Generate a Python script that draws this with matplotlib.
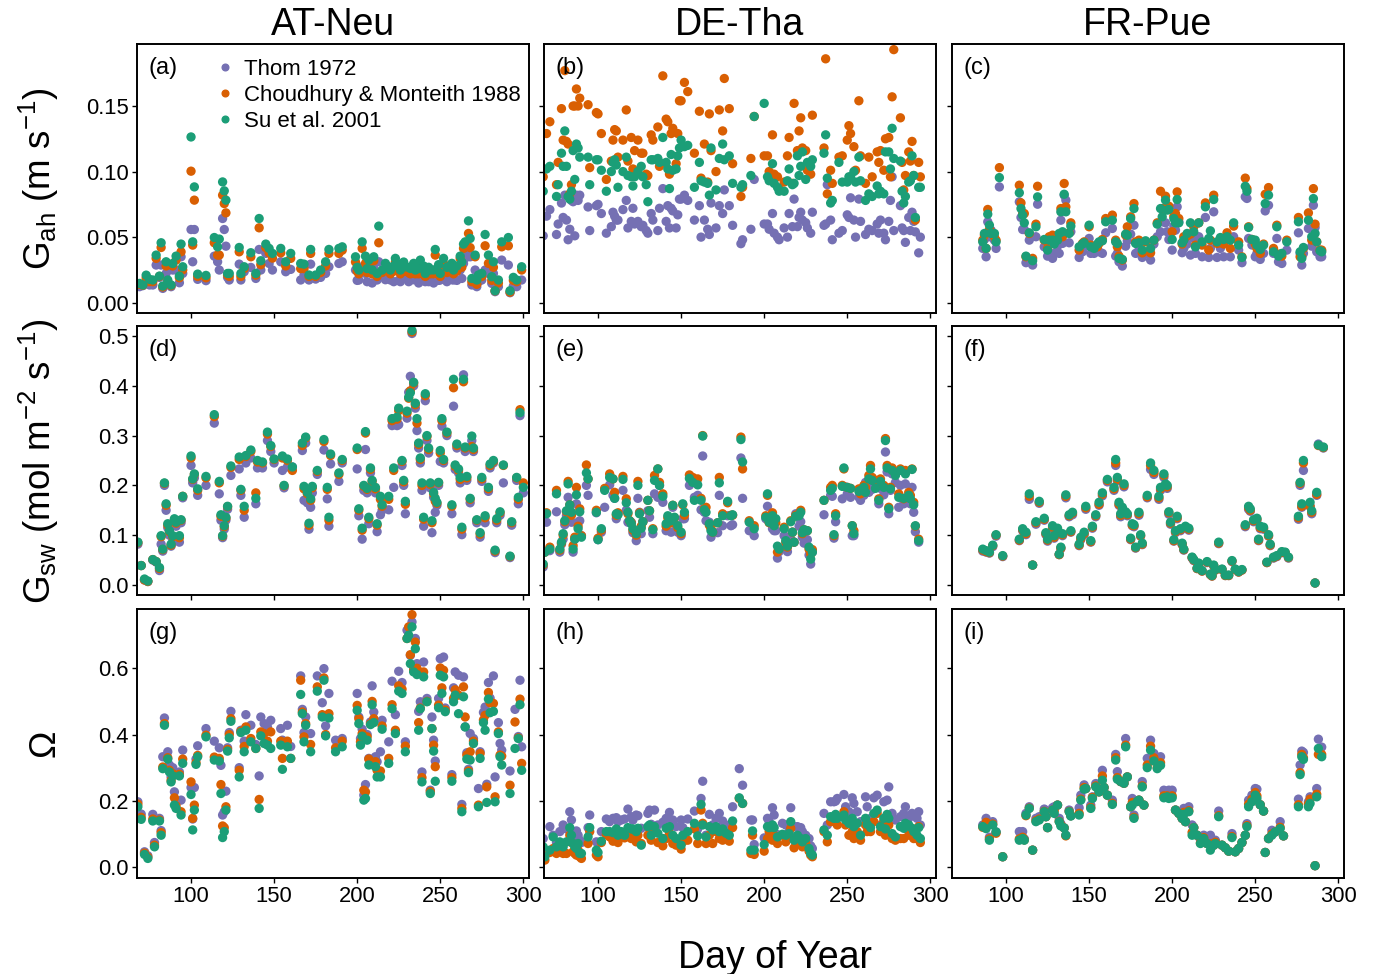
import matplotlib
matplotlib.use("Agg")
import matplotlib.pyplot as plt
from matplotlib.lines import Line2D

plt.rcParams['font.family'] = ['Liberation Sans', 'DejaVu Sans']
plt.rcParams['mathtext.fontset'] = 'custom'
plt.rcParams['mathtext.rm'] = 'Liberation Sans'
plt.rcParams['mathtext.it'] = 'Liberation Sans'
plt.rcParams['mathtext.default'] = 'regular'

sites = ["AT-Neu", "DE-Tha", "FR-Pue"]
methods = ["Thom 1972", "Choudhury & Monteith 1988", "Su et al. 2001"]
colors = ["#7570B3", "#D95F02", "#1B9E77"]
row_labels = [r"G$_{ah}$ (m s$^{-1}$)", r"G$_{sw}$ (mol m$^{-2}$ s$^{-1}$)", "Ω"]
panel_tags = ["(a)", "(b)", "(c)", "(d)", "(e)", "(f)", "(g)", "(h)", "(i)"]
x_ticks = [100, 150, 200, 250, 300]
y_ticks = [[0.00, 0.05, 0.10, 0.15], [0.0, 0.1, 0.2, 0.3, 0.4, 0.5], [0.0, 0.2, 0.4, 0.6]]
y_ticklabels = [["0.00", "0.05", "0.10", "0.15"], ["0.0", "0.1", "0.2", "0.3", "0.4", "0.5"],
                ["0.0", "0.2", "0.4", "0.6"]]

# ---------------- (a) AT-Neu, Gah ----------------
a_day = [69,71,73,75,77,79,81,82,83,85,
         86,88,89,91,93,94,95,100,101,102,
         104,109,114,116,117,119,120,121,122,123,
         129,130,132,136,139,141,142,145,147,149,
         154,157,160,166,168,171,172,175,178,181,
         183,189,191,199,201,203,205,207,210,212,
         213,215,218,220,223,226,229,232,235,238,
         241,244,247,250,252,255,258,262,264,265,
         267,268,269,271,272,273,275,277,279,281,
         282,283,285,287,291,292,294,296,299,
         200,206,209,217,222,225,228,231,234,237,
         240,243,246,249,254,257,260,263]
a_thom = [.0122,.0130,.0152,.0135,.0135,.0287,.0193,.0287,.0109,.0223,
          .0147,.0122,.0249,.0249,.0152,.0350,.0223,.0558,.0312,.0558,
          .0178,.0168,.0355,.0312,.0249,.0642,.0558,.0431,.0193,.0173,
          .0294,.0173,.0236,.0269,.0185,.0406,.0249,.0376,.0299,.0249,
          .0312,.0236,.0254,.0173,.0211,.0173,.0294,.0180,.0193,.0223,
          .0274,.0299,.0312,.0249,.0173,.0274,.0223,.0236,.0261,.0173,
          .0312,.0211,.0185,.0173,.0249,.0160,.0185,.0173,.0185,.0223,
          .0160,.0173,.0249,.0173,.0236,.0185,.0173,.0249,.0299,.0340,
          .0376,.0350,.0135,.0249,.0122,.0160,.0173,.0249,.0223,.0147,
          .0223,.0084,.0122,.0325,.0287,.0076,.0127,.0122,.0173,
          .0170,.0160,.0150,.0175,.0160,.0170,.0185,.0160,.0175,.0150,
          .0170,.0160,.0150,.0170,.0160,.0175,.0170,.0185]
a_chou = [.0140,.0133,.0190,.0160,.0160,.0338,.0200,.0421,.0120,.0280,
          .0160,.0130,.0280,.0325,.0190,.0388,.0250,.1003,.0439,.0782,
          .0200,.0190,.0457,.0363,.0363,.0820,.0756,.0685,.0210,.0200,
          .0388,.0200,.0260,.0350,.0210,.0571,.0290,.0420,.0380,.0340,
          .0380,.0280,.0338,.0260,.0260,.0200,.0376,.0200,.0230,.0280,
          .0376,.0376,.0400,.0310,.0220,.0414,.0300,.0290,.0320,.0200,
          .0457,.0230,.0250,.0220,.0310,.0220,.0240,.0220,.0220,.0290,
          .0200,.0220,.0363,.0200,.0300,.0240,.0220,.0338,.0414,.0426,
          .0528,.0420,.0160,.0350,.0140,.0190,.0200,.0434,.0300,.0170,
          .0270,.0090,.0150,.0426,.0434,.0080,.0170,.0160,.0249,
          .0240,.0230,.0220,.0260,.0240,.0250,.0270,.0230,.0260,.0220,
          .0250,.0230,.0220,.0250,.0230,.0260,.0240,.0270]
a_su = [.0147,.0135,.0210,.0178,.0173,.0363,.0203,.0457,.0127,.0312,
        .0173,.0135,.0299,.0355,.0203,.0447,.0274,.1264,.0464,.0883,
        .0218,.0208,.0497,.0426,.0485,.0921,.0853,.0782,.0223,.0223,
        .0421,.0223,.0274,.0381,.0223,.0642,.0320,.0447,.0414,.0376,
        .0414,.0312,.0376,.0299,.0294,.0211,.0406,.0211,.0249,.0312,
        .0406,.0414,.0426,.0350,.0249,.0464,.0355,.0325,.0350,.0223,
        .0584,.0249,.0279,.0249,.0338,.0249,.0274,.0261,.0249,.0325,
        .0223,.0249,.0406,.0223,.0338,.0274,.0249,.0355,.0447,.0464,
        .0624,.0490,.0185,.0363,.0173,.0211,.0223,.0520,.0363,.0198,
        .0312,.0091,.0173,.0464,.0497,.0091,.0193,.0173,.0274,
        .0270,.0260,.0250,.0300,.0280,.0290,.0310,.0270,.0300,.0260,
        .0280,.0270,.0250,.0290,.0270,.0300,.0280,.0310]

# ---------------- (b) DE-Tha, Gah ----------------
b_day = [67,69,71,75,76,78,79,80,81,82,
         83,84,85,86,87,88,89,94,95,99,
         100,102,105,108,109,110,111,112,115,117,
         118,120,121,122,124,126,127,129,130,132,
         133,136,137,139,141,142,143,144,145,147,
         148,149,150,152,154,158,161,162,164,166,
         167,168,171,173,175,176,179,181,186,187,
         192,194,200,202,203,205,206,208,209,212,
         214,215,217,218,220,221,222,223,225,226,
         228,229,236,237,238,240,241,245,247,250,
         251,252,254,255,257,258,261,263,265,268,
         269,270,272,273,275,276,277,278,282,283,
         284,285,287,288,289,290,291,293,294]
b_thom = [.051,.066,.071,.052,.060,.076,.065,.082,.063,.048,
          .056,.078,.077,.051,.082,.078,.082,.073,.055,.074,
          .075,.068,.053,.058,.069,.066,.063,.063,.071,.078,
          .057,.062,.072,.060,.062,.058,.059,.055,.053,.068,
          .063,.055,.072,.087,.062,.074,.057,.072,.070,.057,
          .067,.079,.079,.082,.078,.063,.074,.050,.063,.056,
          .052,.076,.057,.074,.068,.086,.074,.059,.045,.048,
          .056,.094,.060,.060,.056,.068,.053,.050,.048,.057,
          .050,.068,.058,.079,.058,.065,.069,.063,.061,.057,
          .053,.069,.059,.060,.090,.063,.048,.053,.055,.067,
          .065,.080,.063,.050,.079,.062,.052,.056,.055,.060,
          .053,.063,.053,.048,.062,.078,.096,.055,.074,.057,
          .055,.046,.065,.055,.069,.062,.054,.038,.050]
b_chou = [.096,.129,.138,.090,.107,.148,.124,.177,.123,.121,
          .083,.090,.150,.150,.163,.150,.156,.151,.103,.145,
          .144,.129,.094,.108,.124,.132,.131,.111,.124,.147,
          .108,.126,.102,.116,.124,.114,.114,.098,.097,.128,
          .124,.134,.104,.173,.140,.138,.098,.129,.133,.106,
          .129,.154,.154,.168,.161,.114,.146,.095,.121,.092,
          .144,.116,.100,.147,.131,.171,.148,.106,.081,.088,
          .110,.142,.112,.112,.100,.128,.098,.096,.087,.092,
          .112,.126,.091,.152,.116,.131,.141,.118,.116,.101,
          .098,.143,.118,.186,.083,.101,.091,.111,.112,.124,
          .135,.129,.119,.101,.154,.112,.091,.111,.096,.115,
          .107,.116,.101,.125,.126,.096,.157,.193,.141,.107,
          .086,.097,.115,.108,.123,.097,.063,.107,.096]
b_su = [.085,.102,.104,.081,.090,.114,.104,.131,.104,.081,
        .079,.085,.116,.094,.121,.118,.111,.111,.090,.109,
        .109,.101,.085,.100,.107,.109,.105,.088,.100,.111,
        .097,.096,.089,.096,.100,.104,.096,.090,.077,.109,
        .109,.110,.107,.126,.107,.102,.087,.113,.101,.102,
        .112,.118,.124,.119,.120,.088,.107,.093,.092,.091,
        .082,.118,.086,.110,.121,.109,.112,.091,.088,.090,
        .097,.142,.152,.096,.093,.106,.091,.088,.085,.085,
        .093,.102,.090,.091,.112,.097,.104,.115,.094,.107,
        .104,.109,.114,.128,.095,.076,.078,.107,.092,.092,
        .096,.096,.100,.092,.111,.093,.078,.083,.081,.089,
        .083,.085,.083,.115,.115,.102,.133,.110,.108,.085,
        .076,.081,.092,.093,.112,.097,.065,.088,.088]

# ---------------- (c) FR-Pue, Gah ----------------
c_day = [86,87,88,89,90,91,93,94,96,108,
         109,110,111,112,114,116,118,119,123,125,
         126,128,129,131,132,133,134,135,136,138,
         139,144,146,147,150,151,153,155,156,158,
         160,164,166,167,168,170,172,173,175,177,
         178,180,182,184,187,189,191,193,194,196,
         197,198,200,201,202,203,204,206,207,209,
         211,213,214,216,218,220,222,223,225,227,
         229,231,233,235,237,240,242,244,245,246,
         248,250,251,253,255,256,258,261,263,264,
         266,269,276,277,278,279,282,284,285,286,
         287,289,290]
c_thom = [.0414,.0482,.0350,.0617,.0503,.0553,.0477,.0414,.0883,.0769,
          .0650,.0558,.0558,.0305,.0477,.0287,.0503,.0751,.0426,.0355,
          .0376,.0338,.0376,.0431,.0376,.0629,.0452,.0820,.0782,.0457,
          .0541,.0345,.0388,.0426,.0490,.0376,.0376,.0414,.0388,.0376,
          .0533,.0566,.0355,.0376,.0312,.0279,.0431,.0472,.0523,.0591,
          .0376,.0426,.0345,.0376,.0325,.0447,.0503,.0541,.0617,.0609,
          .0541,.0482,.0401,.0584,.0553,.0731,.0617,.0381,.0414,.0447,
          .0363,.0490,.0376,.0503,.0350,.0650,.0345,.0414,.0693,.0345,
          .0414,.0350,.0490,.0350,.0503,.0401,.0305,.0807,.0795,.0490,
          .0440,.0350,.0376,.0330,.0376,.0700,.0743,.0376,.0490,.0312,
          .0299,.0401,.0533,.0376,.0287,.0376,.0566,.0431,.0743,.0574,
          .0388,.0350,.0350]
c_chou = [.0477,.0515,.0414,.0711,.0558,.0541,.0503,.0477,.1030,.0896,
          .0761,.0680,.0680,.0350,.0528,.0338,.0599,.0888,.0477,.0414,
          .0503,.0515,.0464,.0482,.0503,.0718,.0503,.0909,.0731,.0533,
          .0609,.0401,.0452,.0464,.0579,.0439,.0426,.0426,.0452,.0482,
          .0642,.0668,.0477,.0426,.0355,.0325,.0515,.0579,.0655,.0756,
          .0464,.0477,.0380,.0464,.0380,.0477,.0609,.0850,.0718,.0812,
          .0736,.0736,.0541,.0660,.0680,.0845,.0642,.0447,.0503,.0508,
          .0523,.0579,.0439,.0609,.0439,.0761,.0401,.0477,.0820,.0452,
          .0457,.0447,.0533,.0414,.0584,.0464,.0350,.0950,.0870,.0579,
          .0482,.0447,.0414,.0376,.0447,.0827,.0878,.0414,.0591,.0370,
          .0355,.0477,.0650,.0350,.0350,.0414,.0685,.0477,.0870,.0599,
          .0464,.0401,.0401]
c_su = [.0464,.0528,.0414,.0675,.0591,.0528,.0528,.0464,.0954,.0838,
        .0718,.0668,.0609,.0355,.0533,.0320,.0579,.0807,.0482,.0401,
        .0477,.0477,.0447,.0477,.0528,.0693,.0541,.0827,.0693,.0528,
        .0584,.0426,.0447,.0457,.0591,.0426,.0414,.0447,.0464,.0472,
        .0617,.0629,.0464,.0452,.0338,.0330,.0523,.0515,.0642,.0718,
        .0452,.0457,.0401,.0472,.0414,.0477,.0599,.0718,.0655,.0782,
        .0706,.0711,.0482,.0642,.0609,.0787,.0609,.0457,.0477,.0528,
        .0609,.0541,.0426,.0609,.0464,.0731,.0490,.0548,.0787,.0464,
        .0497,.0482,.0503,.0477,.0609,.0439,.0345,.0888,.0850,.0574,
        .0482,.0477,.0439,.0406,.0439,.0756,.0820,.0388,.0579,.0355,
        .0376,.0464,.0617,.0388,.0338,.0421,.0629,.0503,.0794,.0528,
        .0464,.0396,.0388]

# ---------------- (d) AT-Neu, Gsw ----------------
d_day = [68,70,72,74,77,79,81,82,83,84,
         85,86,87,88,89,90,91,93,94,95,
         100,101,102,104,109,114,117,118,119,120,
         121,122,124,129,130,132,133,136,139,140,
         143,146,148,150,155,156,158,161,167,168,
         169,170,171,172,173,176,180,182,183,184,
         189,191,200,201,203,204,205,206,207,208,
         209,211,212,214,215,219,221,222,224,225,
         227,228,229,230,231,232,233,234,235,236,
         237,238,239,240,241,242,243,244,245,246,
         247,248,249,250,251,252,254,257,258,259,
         260,261,262,263,264,265,266,268,269,270,
         272,274,275,277,279,280,282,283,284,286,
         288,292,293,296,297,298,300]
d_thom = [.082,.039,.010,.007,.050,.046,.029,.082,.068,.200,
          .150,.115,.100,.078,.092,.125,.118,.086,.125,.175,
          .240,.205,.215,.180,.200,.325,.183,.130,.095,.112,
          .130,.152,.220,.233,.180,.136,.245,.255,.163,.235,
          .235,.290,.268,.245,.230,.195,.237,.237,.270,.170,
          .285,.165,.112,.156,.185,.222,.271,.173,.118,.243,
          .208,.245,.233,.139,.092,.190,.272,.185,.123,.225,
          .200,.185,.107,.141,.150,.151,.320,.196,.320,.322,
          .240,.200,.143,.335,.387,.419,.505,.400,.355,.310,
          .275,.245,.190,.118,.370,.290,.265,.195,.105,.176,
          .146,.160,.200,.248,.319,.245,.300,.143,.359,.232,
          .275,.225,.205,.101,.422,.268,.210,.165,.290,.268,
          .125,.096,.208,.125,.188,.235,.245,.065,.125,.140,
          .205,.055,.120,.210,.163,.340,.185]
d_chou = [.085,.039,.010,.007,.051,.047,.033,.097,.071,.204,
          .160,.120,.107,.080,.097,.131,.124,.095,.130,.178,
          .255,.212,.222,.190,.215,.338,.205,.138,.098,.117,
          .134,.157,.236,.252,.190,.150,.258,.268,.185,.247,
          .245,.303,.278,.252,.255,.199,.250,.230,.280,.193,
          .295,.183,.120,.170,.195,.228,.288,.192,.130,.260,
          .222,.250,.272,.150,.110,.198,.305,.192,.133,.232,
          .208,.193,.120,.172,.158,.172,.330,.230,.333,.350,
          .248,.207,.162,.345,.375,.390,.508,.405,.362,.325,
          .282,.252,.200,.132,.380,.298,.272,.202,.125,.183,
          .168,.164,.205,.265,.330,.250,.305,.158,.396,.238,
          .280,.230,.212,.112,.408,.275,.215,.172,.278,.272,
          .130,.102,.213,.135,.193,.240,.248,.068,.130,.145,
          .240,.057,.125,.215,.172,.352,.205]
d_su = [.086,.039,.012,.008,.051,.047,.035,.099,.072,.205,
        .163,.123,.109,.082,.099,.133,.126,.099,.131,.178,
        .259,.213,.223,.193,.218,.342,.208,.141,.099,.119,
        .136,.158,.239,.257,.192,.158,.260,.271,.174,.250,
        .247,.307,.280,.253,.259,.200,.253,.237,.285,.198,
        .297,.186,.124,.173,.198,.230,.292,.196,.136,.263,
        .225,.252,.275,.153,.114,.200,.308,.194,.136,.235,
        .210,.196,.123,.178,.161,.178,.334,.235,.337,.355,
        .250,.210,.168,.349,.377,.386,.511,.407,.365,.334,
        .285,.255,.205,.136,.384,.300,.275,.205,.129,.186,
        .174,.166,.206,.270,.334,.252,.307,.161,.413,.241,
        .283,.233,.216,.116,.413,.277,.218,.174,.299,.275,
        .131,.105,.216,.139,.196,.243,.250,.070,.133,.147,
        .241,.058,.127,.216,.176,.346,.196]

# ---------------- (e) DE-Tha, Gsw ----------------
e_day = [67,68,69,71,75,77,78,79,80,81,
         82,83,84,85,86,87,88,89,90,93,
         94,99,100,102,104,107,109,110,111,112,
         115,117,118,119,120,121,123,124,125,126,
         127,130,131,133,134,136,137,139,141,142,
         144,145,146,148,150,151,152,155,157,158,
         160,162,163,164,165,167,168,169,172,173,
         175,178,180,181,186,187,191,194,201,202,
         203,205,206,207,208,209,212,213,214,216,
         217,218,219,221,222,223,224,226,227,228,
         229,236,240,241,242,243,247,248,250,252,
         253,254,257,258,260,261,263,264,265,267,
         269,270,272,273,274,275,276,277,279,281,
         282,284,285,287,288,289,290,291,293]
e_thom = [.036,.066,.126,.069,.147,.066,.082,.092,.121,.139,
          .176,.151,.126,.066,.092,.163,.126,.129,.099,.200,
          .180,.145,.091,.106,.156,.201,.180,.174,.133,.143,
          .190,.150,.126,.127,.126,.105,.089,.174,.146,.103,
          .127,.149,.136,.103,.183,.176,.200,.166,.109,.123,
          .106,.156,.123,.106,.099,.133,.133,.200,.206,.176,
          .180,.151,.259,.146,.129,.126,.096,.106,.105,.180,
          .119,.139,.119,.121,.255,.174,.109,.099,.133,.158,
          .133,.113,.109,.109,.054,.067,.099,.080,.067,.092,
          .106,.086,.143,.118,.127,.096,.084,.091,.060,.042,
          .066,.141,.180,.178,.094,.127,.173,.198,.183,.176,
          .099,.099,.176,.170,.180,.206,.186,.200,.192,.206,
          .163,.194,.181,.267,.227,.143,.190,.223,.206,.156,
          .200,.163,.203,.176,.163,.196,.146,.107,.086]
e_chou = [.040,.066,.145,.076,.190,.070,.084,.100,.127,.147,
          .208,.161,.140,.079,.096,.196,.118,.153,.099,.241,
          .213,.150,.094,.110,.194,.223,.213,.186,.140,.145,
          .218,.173,.143,.129,.125,.110,.100,.208,.145,.118,
          .127,.170,.149,.113,.220,.233,.206,.183,.118,.135,
          .125,.160,.135,.115,.103,.161,.140,.221,.216,.213,
          .213,.174,.300,.153,.156,.120,.113,.106,.125,.216,
          .143,.165,.140,.140,.297,.233,.129,.119,.139,.180,
          .125,.145,.126,.125,.066,.072,.116,.086,.076,.129,
          .106,.086,.140,.143,.150,.103,.111,.109,.072,.062,
          .071,.170,.196,.200,.099,.143,.200,.233,.196,.194,
          .119,.109,.193,.183,.200,.196,.220,.240,.216,.210,
          .173,.213,.200,.294,.240,.156,.196,.235,.223,.183,
          .233,.173,.230,.186,.180,.233,.166,.118,.092]
e_su = [.042,.066,.143,.072,.183,.072,.086,.103,.129,.149,
        .203,.161,.146,.072,.092,.181,.113,.147,.096,.225,
        .213,.146,.091,.113,.190,.216,.213,.174,.143,.141,
        .212,.165,.146,.129,.123,.113,.103,.200,.143,.114,
        .127,.170,.149,.111,.210,.233,.200,.178,.123,.139,
        .129,.160,.136,.119,.106,.163,.146,.214,.206,.170,
        .201,.170,.299,.151,.146,.123,.109,.106,.125,.205,
        .139,.168,.139,.141,.292,.247,.126,.113,.136,.183,
        .126,.139,.119,.133,.078,.072,.113,.089,.078,.127,
        .106,.086,.138,.139,.146,.105,.111,.109,.076,.052,
        .066,.170,.190,.194,.101,.139,.198,.235,.196,.194,
        .119,.103,.188,.190,.196,.186,.213,.233,.210,.194,
        .170,.208,.196,.290,.235,.153,.193,.230,.220,.176,
        .230,.174,.223,.180,.173,.232,.161,.119,.089]

# ---------------- (f) FR-Pue, Gsw ----------------
f_day = [86,88,90,92,94,98,108,110,111,112,
         114,116,118,120,123,124,125,128,129,131,
         132,133,134,136,138,139,140,144,145,147,
         148,151,152,154,156,158,161,165,166,167,
         168,169,170,171,172,173,175,176,177,178,
         180,181,182,185,187,189,192,193,195,196,
         197,198,199,201,202,203,205,206,207,208,
         210,212,213,215,216,218,221,223,224,225,
         226,228,230,232,234,236,238,240,242,244,
         246,247,249,251,252,253,255,257,258,259,
         261,263,266,268,270,276,277,278,279,283,
         284,286,287,288,291]
f_thom = [.068,.066,.064,.077,.098,.057,.089,.109,.103,.101,
          .172,.040,.122,.164,.130,.101,.088,.113,.094,.110,
          .061,.073,.099,.175,.137,.106,.141,.079,.091,.101,
          .152,.086,.114,.137,.160,.179,.207,.190,.240,.209,
          .160,.137,.150,.197,.142,.139,.091,.119,.117,.074,
          .140,.098,.081,.175,.232,.222,.172,.190,.216,.197,
          .194,.142,.122,.088,.105,.133,.109,.081,.070,.114,
          .110,.054,.049,.033,.042,.028,.045,.021,.018,.038,
          .030,.083,.031,.019,.019,.047,.031,.026,.030,.117,
          .152,.148,.127,.130,.089,.113,.112,.045,.098,.079,
          .054,.057,.065,.064,.054,.132,.200,.156,.230,.158,
          .143,.004,.180,.283,.275]
f_chou = [.070,.067,.065,.079,.100,.058,.090,.111,.105,.103,
          .178,.040,.125,.166,.132,.103,.090,.116,.096,.112,
          .061,.074,.101,.178,.139,.107,.144,.080,.093,.103,
          .155,.087,.116,.139,.162,.182,.210,.193,.245,.212,
          .162,.140,.153,.200,.145,.141,.092,.120,.119,.075,
          .143,.099,.082,.177,.240,.226,.175,.193,.220,.200,
          .197,.145,.124,.089,.107,.135,.111,.082,.071,.116,
          .112,.055,.050,.033,.043,.028,.046,.021,.018,.039,
          .030,.084,.031,.019,.019,.048,.031,.026,.030,.119,
          .155,.150,.129,.132,.090,.115,.114,.045,.099,.080,
          .055,.058,.066,.065,.055,.135,.204,.158,.245,.158,
          .146,.004,.182,.280,.276]
f_su = [.072,.069,.066,.080,.101,.059,.092,.113,.107,.106,
        .183,.040,.127,.168,.134,.105,.092,.119,.099,.114,
        .062,.076,.103,.181,.141,.109,.146,.082,.096,.106,
        .158,.089,.118,.141,.166,.185,.212,.196,.252,.216,
        .166,.143,.156,.203,.147,.143,.094,.123,.121,.076,
        .146,.101,.084,.180,.245,.230,.178,.196,.223,.203,
        .200,.147,.126,.091,.109,.138,.113,.084,.072,.118,
        .114,.056,.051,.034,.044,.029,.047,.022,.019,.040,
        .031,.086,.032,.020,.020,.049,.032,.027,.031,.121,
        .158,.153,.131,.134,.092,.118,.116,.046,.101,.082,
        .056,.059,.067,.066,.056,.138,.206,.163,.250,.166,
        .149,.004,.186,.281,.277]

# ---------------- (g) AT-Neu, Omega ----------------
g_day = [68,70,72,74,77,78,81,82,83,84,
         86,87,88,89,90,91,93,94,95,100,
         101,102,103,104,109,114,117,118,119,120,
         121,122,123,124,129,130,132,133,136,139,
         141,142,144,146,148,154,155,158,160,166,
         167,168,169,172,176,179,180,181,183,187,
         191,200,201,202,203,204,205,206,207,208,
         209,210,211,212,214,215,219,221,223,225,
         227,229,230,231,232,233,234,235,236,237,
         238,239,240,242,244,245,246,247,249,250,
         251,252,253,257,258,259,261,263,264,265,
         266,267,268,270,273,274,276,277,278,279,
         280,282,283,285,286,287,292,295,297,298,
         299]
g_thom = [.197,.160,.046,.034,.159,.074,.147,.110,.333,.450,
          .348,.308,.272,.300,.227,.197,.287,.202,.353,.240,
          .145,.240,.326,.366,.418,.380,.360,.307,.157,.167,
          .229,.360,.406,.470,.300,.413,.380,.460,.428,.370,
          .275,.453,.433,.423,.443,.418,.383,.428,.364,.577,
          .476,.406,.453,.403,.577,.496,.599,.426,.524,.383,
          .388,.524,.453,.388,.416,.217,.249,.400,.328,.438,
          .547,.468,.333,.318,.348,.443,.378,.561,.460,.591,
          .557,.378,.715,.722,.639,.740,.600,.690,.614,.470,
          .499,.287,.619,.509,.232,.453,.383,.320,.509,.629,
          .589,.634,.480,.279,.541,.589,.579,.189,.574,.423,
          .345,.295,.403,.388,.237,.348,.467,.483,.250,.557,
          .510,.577,.272,.436,.373,.353,.290,.476,.394,.564,
          .363]
g_chou = [.190,.150,.042,.030,.145,.066,.142,.104,.302,.433,
          .330,.292,.262,.282,.209,.185,.280,.167,.326,.257,
          .147,.187,.315,.337,.398,.332,.328,.249,.124,.119,
          .182,.355,.400,.448,.292,.410,.364,.423,.388,.358,
          .204,.408,.403,.380,.408,.380,.328,.380,.328,.564,
          .468,.393,.433,.370,.544,.460,.571,.400,.463,.360,
          .380,.488,.448,.378,.403,.232,.227,.393,.326,.433,
          .500,.448,.318,.292,.290,.426,.328,.490,.413,.547,
          .537,.365,.690,.725,.641,.762,.594,.679,.600,.436,
          .480,.270,.589,.500,.228,.418,.368,.303,.489,.601,
          .541,.594,.474,.270,.509,.535,.519,.177,.544,.453,
          .338,.290,.348,.380,.187,.343,.444,.458,.242,.527,
          .496,.494,.212,.408,.338,.335,.247,.438,.390,.507,
          .313]
g_su = [.182,.144,.038,.026,.139,.061,.139,.096,.297,.428,
        .326,.287,.257,.275,.187,.177,.275,.157,.313,.219,
        .112,.172,.310,.333,.393,.323,.320,.222,.089,.107,
        .172,.350,.390,.440,.272,.406,.348,.413,.378,.358,
        .177,.396,.373,.368,.358,.368,.295,.363,.328,.521,
        .463,.378,.428,.348,.531,.453,.564,.396,.450,.348,
        .363,.473,.433,.368,.395,.202,.207,.383,.308,.430,
        .490,.436,.303,.272,.272,.416,.313,.478,.403,.531,
        .524,.348,.690,.700,.614,.725,.589,.659,.581,.413,
        .478,.257,.574,.499,.222,.418,.350,.259,.481,.579,
        .524,.574,.469,.259,.499,.519,.463,.167,.514,.423,
        .326,.285,.323,.373,.182,.328,.436,.413,.195,.507,
        .466,.470,.197,.403,.333,.308,.222,.358,.388,.490,
        .292]

# ---------------- (h) DE-Tha, Omega ----------------
h_day = [67,68,71,73,75,77,79,81,83,84,
         85,86,87,88,89,90,94,95,99,100,
         102,105,107,109,111,112,114,116,118,120,
         121,123,124,126,130,131,132,134,136,139,
         141,143,145,147,150,151,154,158,160,162,
         163,165,167,169,171,173,175,177,179,181,
         185,187,192,193,194,200,202,203,205,206,
         208,211,213,215,216,218,220,222,223,225,
         227,228,229,236,238,240,242,243,244,248,
         249,251,253,254,256,258,261,262,264,266,
         268,270,272,273,274,275,277,279,282,284,
         285,287,289,290,292,293,294]
h_thom = [.086,.046,.122,.096,.074,.107,.127,.115,.167,.142,
          .096,.086,.109,.096,.081,.074,.119,.157,.076,.074,
          .107,.145,.137,.147,.149,.137,.142,.145,.175,.152,
          .142,.157,.155,.117,.162,.172,.129,.172,.127,.135,
          .147,.165,.142,.122,.142,.119,.145,.169,.115,.207,
          .259,.096,.159,.127,.147,.162,.139,.119,.127,.182,
          .297,.247,.142,.142,.068,.088,.147,.137,.179,.157,
          .098,.132,.127,.107,.179,.122,.122,.119,.107,.096,
          .086,.064,.056,.162,.127,.197,.197,.199,.207,.219,
          .182,.167,.209,.192,.167,.137,.212,.182,.147,.209,
          .217,.127,.197,.147,.202,.242,.162,.142,.152,.162,
          .182,.147,.162,.157,.147,.167,.127]
h_chou = [.026,.021,.044,.056,.041,.054,.041,.041,.096,.074,
          .046,.041,.036,.051,.031,.026,.071,.107,.036,.031,
          .074,.098,.091,.078,.088,.074,.091,.088,.102,.086,
          .091,.076,.096,.071,.096,.115,.081,.107,.074,.064,
          .086,.102,.071,.066,.054,.076,.081,.115,.071,.172,
          .132,.071,.096,.071,.107,.086,.081,.086,.078,.119,
          .207,.192,.041,.096,.038,.048,.086,.107,.081,.096,
          .071,.096,.076,.091,.117,.058,.086,.071,.061,.071,
          .048,.036,.031,.107,.076,.137,.137,.152,.127,.167,
          .127,.096,.107,.086,.107,.081,.127,.107,.107,.137,
          .162,.107,.137,.096,.127,.127,.086,.081,.086,.086,
          .117,.096,.099,.086,.086,.122,.074]
h_su = [.061,.031,.051,.091,.061,.076,.061,.076,.119,.096,
        .071,.061,.056,.071,.041,.041,.091,.119,.051,.044,
        .078,.107,.107,.104,.115,.096,.107,.096,.119,.115,
        .115,.107,.117,.066,.122,.127,.096,.122,.102,.086,
        .117,.122,.096,.086,.066,.096,.107,.132,.094,.189,
        .127,.091,.122,.112,.122,.107,.115,.102,.096,.139,
        .209,.192,.051,.109,.051,.068,.122,.119,.127,.119,
        .091,.099,.096,.101,.137,.081,.096,.086,.076,.086,
        .056,.041,.036,.112,.096,.152,.147,.159,.147,.157,
        .142,.132,.147,.122,.132,.096,.147,.129,.119,.162,
        .172,.122,.147,.115,.159,.147,.101,.091,.122,.117,
        .132,.127,.117,.107,.096,.119,.086]

# ---------------- (i) FR-Pue, Omega ----------------
i_day = [86,88,90,92,94,98,108,110,111,112,
         114,116,118,120,123,124,125,128,129,131,
         132,133,135,136,138,139,144,145,147,148,
         151,152,154,156,158,159,161,164,166,167,
         169,171,172,173,175,176,177,179,180,182,
         183,185,187,189,191,193,195,197,198,200,
         202,204,206,207,208,210,212,213,215,217,
         219,221,223,225,226,228,230,232,234,236,
         238,240,242,244,245,246,248,250,251,253,
         255,256,258,260,262,265,267,276,277,278,
         279,282,283,286,287,288,290]
i_thom = [.127,.147,.090,.137,.106,.031,.107,.107,.085,.162,
          .182,.051,.147,.152,.175,.152,.119,.179,.182,.187,
          .147,.131,.118,.096,.172,.155,.179,.217,.248,.237,
          .187,.212,.252,.227,.292,.240,.217,.202,.340,.288,
          .258,.253,.388,.272,.182,.207,.157,.198,.202,.258,
          .187,.328,.383,.343,.318,.333,.232,.227,.232,.232,
          .172,.162,.147,.177,.137,.182,.127,.119,.096,.082,
          .096,.071,.096,.066,.081,.169,.066,.058,.048,.101,
          .046,.056,.074,.096,.131,.202,.217,.237,.235,.188,
          .169,.044,.086,.111,.106,.137,.094,.205,.308,.350,
          .346,.197,.212,.004,.237,.386,.362]
i_chou = [.120,.135,.085,.130,.102,.031,.085,.090,.082,.155,
          .178,.051,.140,.145,.168,.152,.119,.172,.170,.187,
          .138,.127,.118,.094,.168,.155,.162,.205,.240,.237,
          .180,.210,.245,.227,.275,.240,.217,.192,.330,.270,
          .258,.253,.368,.272,.182,.195,.150,.198,.202,.245,
          .187,.308,.365,.330,.300,.315,.215,.215,.212,.215,
          .172,.162,.147,.165,.137,.170,.105,.119,.096,.073,
          .089,.071,.070,.066,.075,.155,.066,.058,.048,.092,
          .046,.056,.074,.096,.125,.190,.205,.225,.215,.188,
          .169,.044,.086,.100,.106,.120,.094,.188,.285,.340,
          .330,.190,.205,.004,.220,.340,.340]
i_su = [.122,.116,.081,.127,.106,.031,.081,.086,.081,.157,
        .177,.051,.137,.142,.167,.152,.119,.172,.162,.187,
        .137,.124,.118,.096,.167,.154,.157,.202,.235,.237,
        .177,.207,.242,.227,.262,.240,.217,.189,.323,.265,
        .258,.253,.363,.272,.182,.187,.147,.198,.202,.242,
        .187,.300,.353,.320,.297,.307,.209,.212,.207,.209,
        .172,.162,.147,.159,.137,.167,.096,.119,.096,.071,
        .086,.071,.051,.066,.071,.152,.066,.058,.048,.089,
        .046,.056,.074,.096,.122,.182,.197,.217,.207,.188,
        .169,.044,.086,.096,.106,.116,.094,.182,.279,.333,
        .325,.182,.192,.004,.212,.358,.333]

panels = [
    [(a_day, a_thom, a_chou, a_su), (b_day, b_thom, b_chou, b_su), (c_day, c_thom, c_chou, c_su)],
    [(d_day, d_thom, d_chou, d_su), (e_day, e_thom, e_chou, e_su), (f_day, f_thom, f_chou, f_su)],
    [(g_day, g_thom, g_chou, g_su), (h_day, h_thom, h_chou, h_su), (i_day, i_thom, i_chou, i_su)],
]
y_lims = [(-0.0081, 0.1973), (-0.0207, 0.52), (-0.034, 0.779)]
x_lim = (67.3, 303.6)

W, H = 1376.0, 974.0
fig = plt.figure(figsize=(W / 100, H / 100), dpi=100)
col_left = [136.7, 543.7, 951.7]
col_w = 392.6
row_top = [44.0, 326.0, 609.0]
row_h = 269.3

axes_first = None
for r in range(3):
    for c in range(3):
        ax = fig.add_axes([col_left[c] / W, 1 - (row_top[r] + row_h) / H, col_w / W, row_h / H])
        day, thom, chou, su = panels[r][c]
        for vals, col, lab in zip((thom, chou, su), colors, methods):
            n = min(len(day), len(vals))
            ax.scatter(day[:n], vals[:n], s=45, color=col, edgecolors='none', label=lab, zorder=2)
        ax.set_xlim(*x_lim)
        ax.set_ylim(*y_lims[r])
        ax.set_xticks(x_ticks)
        ax.set_yticks(y_ticks[r])
        if c == 0:
            ax.set_yticklabels(y_ticklabels[r])
        else:
            ax.set_yticklabels([])
        if r == 2:
            ax.set_xticklabels([str(t) for t in x_ticks])
        else:
            ax.set_xticklabels([])
        ax.tick_params(direction='out', length=3.6, width=1.0, color='black',
                       labelsize=15.8, labelcolor='black', pad=2)
        for sp in ax.spines.values():
            sp.set_linewidth(1.4)
            sp.set_color('black')
        ax.text(0.029, 0.912, panel_tags[r * 3 + c], transform=ax.transAxes,
                fontsize=17, ha='left', va='center')
        if r == 0 and c == 0:
            axes_first = ax

# legend in panel (a)
handles = [Line2D([], [], marker='o', linestyle='', color=col, markersize=4.8) for col in colors]
axes_first.legend(handles, methods, loc='upper left', bbox_to_anchor=(0.1966, 0.946),
                  frameon=False, fontsize=16, handlelength=1.0, handletextpad=0.36,
                  labelspacing=0.24, borderpad=0, borderaxespad=0)

# column titles
for c, name in enumerate(sites):
    fig.text((col_left[c] + col_w / 2) / W, 1 - 25 / H, name, fontsize=27,
             ha='center', va='center')

# row labels
label_x = [39, 39, 45]
for r, lab in enumerate(row_labels):
    fig.text(label_x[r] / W, 1 - (row_top[r] + row_h / 2) / H, lab, fontsize=26.5,
             rotation=90, ha='center', va='center')

fig.text(775 / W, 1 - 958 / H, "Day of Year", fontsize=27, ha='center', va='center')

fig.savefig("out.png", dpi=100)
